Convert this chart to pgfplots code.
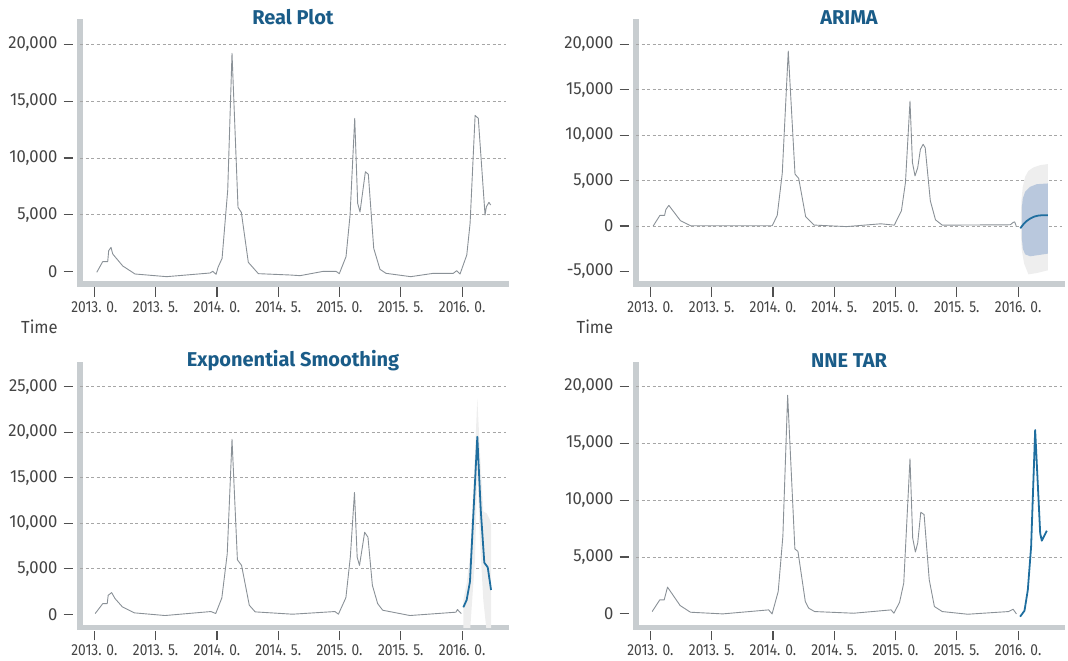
\documentclass[border=0pt]{standalone}
\usepackage{fontspec}
\setmainfont{Fira Sans}
\newfontfamily\tickfontx{Fira Sans}[FakeStretch=0.86]
\newfontfamily\tickfonty{Fira Sans}[FakeStretch=0.95]
\newfontfamily\titlefont{Fira Sans}
\usepackage{pgfplots}
\pgfplotsset{compat=1.18}

\definecolor{spinec}{HTML}{C8CDD0}
\definecolor{gridc}{HTML}{A6A6A6}
\definecolor{tickc}{HTML}{505050}
\definecolor{labc}{HTML}{444444}
\definecolor{datac}{HTML}{8A9197}
\definecolor{fcblue}{HTML}{1F6E9F}
\definecolor{titlec}{HTML}{1A5C88}
\definecolor{bandA}{HTML}{B9C8DD}
\definecolor{bandB}{HTML}{EEEEEE}

\newcommand{\tfx}{\tickfontx\fontsize{16bp}{18bp}\selectfont}
\newcommand{\tfy}{\tickfonty\fontsize{17.5bp}{20bp}\selectfont}
\newcommand{\ttl}{\titlefont\bfseries\fontsize{20bp}{24bp}\selectfont}

\pgfplotsset{
  panel/.style={
    scale only axis, width=426bp,
    xmin=2012.883, xmax=2016.358,
    axis x line=bottom, axis y line=left,
    axis line style={-, draw=spinec, line width=5.5bp, line cap=rect},
    x axis line style={-, draw=spinec, line width=5.5bp, line cap=rect},
    y axis line style={-, draw=spinec, line width=5.5bp, line cap=rect},
    tick align=outside,
    major tick length=9.5bp,
    scaled y ticks=false,
    xtick={2013,2013.5,2014,2014.5,2015,2015.5,2016},
    xticklabels={2013. 0.,2013. 5.,2014. 0.,2014. 5.,2015. 0.,2015. 5.,2016. 0.},
    xticklabel style={font=\tfx, text=labc, inner sep=0pt, anchor=north, yshift=-7.7bp},
    yticklabel style={font=\tfy, text=labc, inner sep=0pt, anchor=east, xshift=-13bp},
    xtick style={draw=tickc, line width=1.2bp, yshift=-3.5bp},
    ytick style={draw=tickc, line width=1.2bp, xshift=-7bp},
    extra y tick labels={},
    extra y tick style={major tick length=0pt, grid=major},
    grid style={draw=gridc, line width=0.75bp, dash pattern=on 3bp off 2.5bp},
    clip=true,
  },
  base/.style={datac, line width=0.9bp, line join=round},
  fc/.style={fcblue, line width=1.8bp, line join=round},
}

\begin{document}
\begin{tikzpicture}
\path[use as bounding box] (0,0) rectangle (1068bp,661bp);

% ---------------- Real Plot ----------------
\begin{axis}[panel, height=262bp, at={(80bp,377bp)}, anchor=south west,
  ymin=-1101, ymax=21982,
  ytick={0,5000,10000,15000,20000},
  yticklabels={0,{5,000},{10,000},{15,000},{20,000}},
  extra y ticks={5000,10000,15000,20000}]
\addplot[base] table {
2013.020 -70
2013.068 866
2013.109 866
2013.117 1835
2013.136 2129
2013.150 1541
2013.232 484
2013.332 -220
2013.590 -455
2013.944 -132
2013.966 15
2013.993 -250
2014.009 367
2014.042 1160
2014.088 7178
2014.123 19216
2014.172 5652
2014.199 5212
2014.256 807
2014.338 -191
2014.596 -308
2014.678 -367
2014.868 15
2014.972 15
2014.998 -191
2015.053 1307
2015.086 4977
2015.124 13491
2015.148 6004
2015.167 5241
2015.211 8793
2015.235 8558
2015.279 2040
2015.330 191
2015.379 -161
2015.581 -455
2015.765 -161
2015.928 -161
2015.956 73
2015.983 -220
2016.038 1453
2016.065 4243
2016.106 13755
2016.132 13491
2016.187 4977
2016.198 5711
2016.219 6093
2016.233 5858
};
\end{axis}

% ---------------- ARIMA ----------------
\begin{axis}[panel, height=262bp, at={(636bp,377bp)}, anchor=south west,
  ymin=-6380, ymax=22472,
  ytick={-5000,0,5000,10000,15000,20000},
  yticklabels={{-5,000},0,{5,000},{10,000},{15,000},{20,000}},
  extra y ticks={0,5000,10000,15000,20000}]
\addplot[fill=bandB, draw=none] table {
2016.242 6822
2016.180 6712
2016.125 6455
2016.084 6085
2016.057 5425
2016.038 4318
2016.027 2850
2016.022 1010
2016.022 -830
2016.030 -2670
2016.049 -4140
2016.084 -5320
2016.152 -5175
2016.242 -4880
};
\addplot[fill=bandA, draw=none] table {
2016.242 4690
2016.152 4614
2016.098 4318
2016.057 3768
2016.038 3032
2016.030 1931
2016.030 -1200
2016.038 -2487
2016.057 -3110
2016.098 -3330
2016.242 -3040
};
\addplot[base] table {
2013.023 0
2013.078 1174
2013.116 1174
2013.127 1835
2013.151 2275
2013.246 587
2013.328 37
2013.994 37
2014.035 1174
2014.076 5798
2014.125 19266
2014.180 5725
2014.210 5248
2014.267 1028
2014.335 110
2014.600 -60
2014.880 250
2014.990 100
2015.048 1680
2015.081 4790
2015.118 13750
2015.138 6990
2015.159 5520
2015.181 6430
2015.203 8450
2015.225 9000
2015.242 8630
2015.284 2770
2015.326 690
2015.381 100
2015.936 140
2015.959 400
2015.972 460
2015.986 -60
};
\addplot[fc, smooth] table {
2016.018 -250
2016.043 199
2016.071 567
2016.098 824
2016.125 1008
2016.166 1155
2016.207 1192
2016.242 1192
};
\end{axis}

% ---------------- Exponential Smoothing ----------------
\begin{axis}[panel, height=262.3bp, at={(80bp,33.7bp)}, anchor=south west,
  ymin=-1440, ymax=27385,
  ytick={0,5000,10000,15000,20000,25000},
  yticklabels={0,{5,000},{10,000},{15,000},{20,000},{25,000}},
  extra y ticks={5000,10000,15000,20000,25000}]
\addplot[fill=bandB, draw=none] table {
2016.010 1560
2016.037 3393
2016.064 6320
2016.105 17680
2016.124 23730
2016.146 17680
2016.173 11270
2016.201 11090
2016.228 10350
2016.236 9990
2016.236 -2000
2016.201 -2000
2016.173 1500
2016.146 8000
2016.124 15500
2016.105 6000
2016.064 -2000
2016.010 -2000
};
\addplot[base] table {
2013.007 73
2013.069 1166
2013.105 1166
2013.113 2078
2013.141 2370
2013.169 1713
2013.229 800
2013.327 146
2013.577 -146
2013.951 292
2013.990 73
2014.040 1786
2014.084 6634
2014.123 19210
2014.167 5978
2014.201 5358
2014.264 984
2014.312 255
2014.617 0
2014.963 292
2014.991 0
2015.052 1822
2015.088 6270
2015.122 13377
2015.144 6270
2015.163 5358
2015.205 9003
2015.232 8457
2015.268 3171
2015.311 1166
2015.352 437
2015.574 -146
2015.949 219
2015.962 510
2015.993 73
};
\addplot[fc] table {
2016.010 757
2016.037 1560
2016.064 3570
2016.124 19500
2016.152 11450
2016.181 5660
2016.209 5150
2016.236 2660
};
\end{axis}

% ---------------- NNE TAR ----------------
\begin{axis}[panel, height=262.3bp, at={(636bp,33.7bp)}, anchor=south west,
  ymin=-1179, ymax=21891,
  ytick={0,5000,10000,15000,20000},
  yticklabels={0,{5,000},{10,000},{15,000},{20,000}},
  extra y ticks={5000,10000,15000,20000}]
\addplot[base] table {
2013.015 206
2013.077 1235
2013.113 1235
2013.140 2353
2013.243 735
2013.327 147
2013.590 0
2013.965 353
2013.993 0
2014.043 1970
2014.081 6823
2014.120 19234
2014.179 5706
2014.204 5500
2014.264 1088
2014.292 500
2014.340 206
2014.659 59
2014.964 353
2014.987 59
2015.033 1029
2015.067 2706
2015.118 13646
2015.140 6676
2015.162 5441
2015.181 6235
2015.206 8941
2015.233 8735
2015.275 3000
2015.317 647
2015.381 206
2015.589 -30
2015.922 206
2015.959 412
2015.986 0
};
\addplot[fc] table {
2016.016 -245
2016.052 280
2016.079 2100
2016.106 5910
2016.139 16170
2016.180 7090
2016.193 6440
2016.234 7320
};
\end{axis}

% titles and labels
\node[text=titlec, font=\ttl] at (293bp,643.8bp) {Real Plot};
\node[text=titlec, font=\ttl] at (849bp,643.8bp) {ARIMA};
\node[text=titlec, font=\ttl] at (293bp,300.4bp) {Exponential Smoothing};
\node[text=titlec, font=\ttl] at (849bp,300.4bp) {NNE TAR};
\node[text=labc, font=\tfy, anchor=west, inner sep=0pt] at (21bp,334bp) {Time};
\node[text=labc, font=\tfy, anchor=west, inner sep=0pt] at (576.5bp,334bp) {Time};
\end{tikzpicture}
\end{document}
